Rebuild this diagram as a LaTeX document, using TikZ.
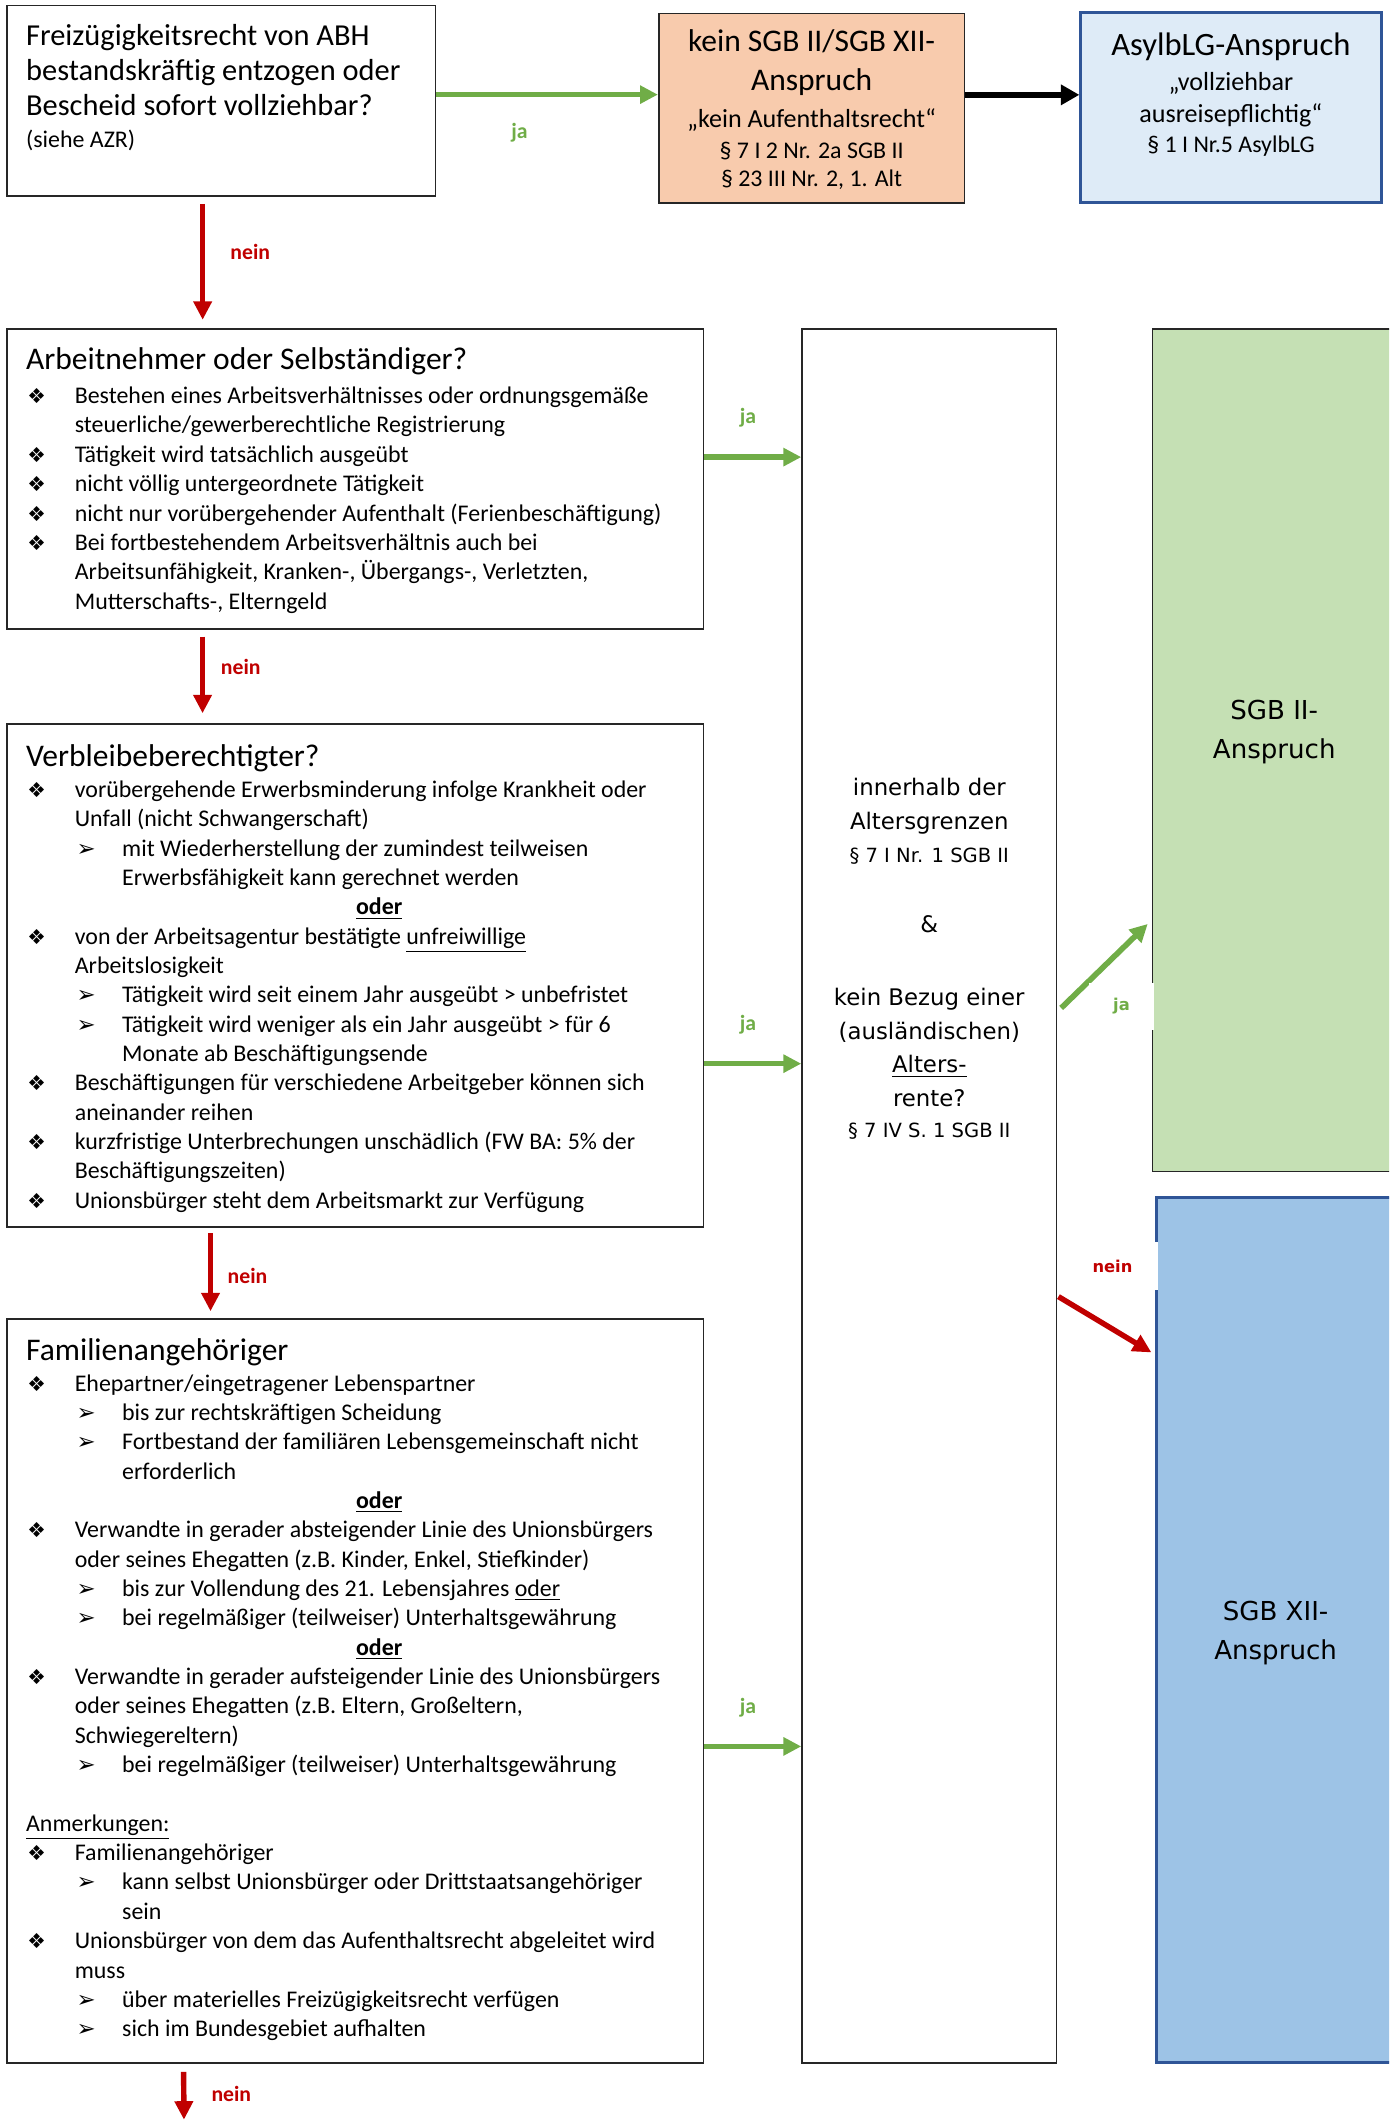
\documentclass[tikz,border=0pt]{standalone}
\usepackage{fontspec}
\setmainfont{Carlito}
\newfontfamily\verd{DejaVu Sans}
\newfontfamily\sym{DejaVu Sans}
\usetikzlibrary{arrows.meta,calc,fit}

\definecolor{jagruen}{HTML}{70AD47}
\definecolor{neinrot}{HTML}{C00000}
\definecolor{orangefill}{HTML}{F8CBAD}
\definecolor{asylfill}{HTML}{DEEBF7}
\definecolor{randblau}{HTML}{2F5597}
\definecolor{sgbzweifill}{HTML}{C5E0B4}
\definecolor{sgbzwoelffill}{HTML}{9DC3E6}

% Aufzaehlungszeichen
\newcommand{\pk}{\makebox[22.4pt][l]{\hspace{0.6pt}{\sym\fontsize{9.5}{9}\selectfont ❖}}}
\newcommand{\upk}{\hspace*{22.4pt}\makebox[21.8pt][l]{\hspace{0.8pt}{\sym\fontsize{10.5}{9}\selectfont ➢}}}
\newcommand{\ein}{\hspace*{22.4pt}}
\newcommand{\uein}{\hspace*{44.2pt}}
\newcommand{\oder}{\makebox[324.9pt]{\textbf{\underline{oder}}}}
\newcommand{\titel}{\fontsize{14.5}{16}\selectfont}

\begin{document}
\begin{tikzpicture}[x=0.6224pt,y=-0.6224pt,
    kasten/.style={draw=black!85, line width=0.8pt, inner sep=0pt},
    textblock/.style={anchor=north west, inner sep=0pt, align=left,
        font=\fontsize{11}{13.5}\selectfont},
    ja/.style={-{Triangle[length=8.2pt,width=8pt]}, line width=2.6pt, draw=jagruen},
    nein/.style={-{Triangle[length=8.5pt,width=8.2pt]}, line width=2.5pt, draw=neinrot},
    jaText/.style={text=jagruen, font=\bfseries\fontsize{10}{12}\selectfont},
    neinText/.style={text=neinrot, font=\bfseries\fontsize{10}{12}\selectfont},
    seitenText/.style={font=\verd\bfseries\fontsize{7.5}{9}\selectfont, fill=white,
        inner sep=0pt, minimum width=30pt, minimum height=22pt}]
    \useasboundingbox (0,0) rectangle (1027,1568);
    \clip (0,0) rectangle (1027,1568);

    % obere Reihe
    \node[kasten, fit={(5,4) (322,145)}] (frage) {};
    \node[textblock, font=\fontsize{14}{16.2}\selectfont] (frageText) at (19,17.5)
        {Freizügigkeitsrecht von ABH\\ bestandskräftig entzogen oder\\
         Bescheid sofort vollziehbar?\\[-1.6pt] {\fontsize{11}{13}\selectfont (siehe AZR)}};

    \node[kasten, fill=orangefill, fit={(487,10) (713,150)}] (kein) {};
    \node[align=center, inner sep=0pt, font=\fontsize{11}{13.1}\selectfont] (keinText) at (600,81)
        {{\fontsize{14.5}{18}\selectfont kein SGB II/SGB XII-}\\[4.9pt]
         {\fontsize{14.5}{18}\selectfont Anspruch}\\[3.7pt]
         {\fontsize{12}{14}\selectfont „kein Aufenthaltsrecht“}\\[1.2pt]
         § 7 I 2 Nr. 2a SGB II\\ § 23 III Nr. 2, 1. Alt};

    \node[kasten, draw=randblau, line width=1.3pt, fill=asylfill,
        fit={(799,9) (1021,150)}] (asyl) {};
    \node[align=center, inner sep=0pt, font=\fontsize{11}{13.7}\selectfont] (asylText) at (910,70)
        {{\fontsize{15}{18}\selectfont AsylbLG-Anspruch}\\[2.5pt]
         {\fontsize{12}{15}\selectfont „vollziehbar}\\[1.2pt]
         {\fontsize{12}{15}\selectfont ausreisepflichtig“}\\
         § 1 I Nr.5 AsylbLG};

    % linke Spalte
    \node[kasten, fit={(5,243) (520,465)}] (arbeit) {};
    \node[textblock] (arbeitText) at (19,257) {%
        {\titel Arbeitnehmer oder Selbständiger?}\\[2pt]
        \pk Bestehen eines Arbeitsverhältnisses oder ordnungsgemäße\\
        \ein steuerliche/gewerberechtliche Registrierung\\
        \pk Tätigkeit wird tatsächlich ausgeübt\\
        \pk nicht völlig untergeordnete Tätigkeit\\
        \pk nicht nur vorübergehender Aufenthalt (Ferienbeschäftigung)\\
        \pk Bei fortbestehendem Arbeitsverhältnis auch bei\\
        \ein Arbeitsunfähigkeit, Kranken-, Übergangs-, Verletzten,\\
        \ein Mutterschafts-, Elterngeld};

    \node[kasten, fit={(5,535) (520,907)}] (verbleib) {};
    \node[textblock] (verbleibText) at (19,550) {%
        {\titel Verbleibeberechtigter?}\\[0.8pt]
        \pk vorübergehende Erwerbsminderung infolge Krankheit oder\\
        \ein Unfall (nicht Schwangerschaft)\\
        \upk mit Wiederherstellung der zumindest teilweisen\\
        \uein Erwerbsfähigkeit kann gerechnet werden\\
        \oder\\
        \pk von der Arbeitsagentur bestätigte \underline{unfreiwillige}\\
        \ein Arbeitslosigkeit\\
        \upk Tätigkeit wird seit einem Jahr ausgeübt > unbefristet\\
        \upk Tätigkeit wird weniger als ein Jahr ausgeübt > für 6\\
        \uein Monate ab Beschäftigungsende\\
        \pk Beschäftigungen für verschiedene Arbeitgeber können sich\\
        \ein aneinander reihen\\
        \pk kurzfristige Unterbrechungen unschädlich (FW BA: 5\% der\\
        \ein Beschäftigungszeiten)\\
        \pk Unionsbürger steht dem Arbeitsmarkt zur Verfügung};

    \node[kasten, fit={(5,975) (520,1525)}] (familie) {};
    \node[textblock] (familieText) at (19,989) {%
        {\titel Familienangehöriger}\\[0.8pt]
        \pk Ehepartner/eingetragener Lebenspartner\\
        \upk bis zur rechtskräftigen Scheidung\\
        \upk Fortbestand der familiären Lebensgemeinschaft nicht\\
        \uein erforderlich\\
        \oder\\
        \pk Verwandte in gerader absteigender Linie des Unionsbürgers\\
        \ein oder seines Ehegatten (z.B. Kinder, Enkel, Stiefkinder)\\
        \upk bis zur Vollendung des 21. Lebensjahres \underline{oder}\\
        \upk bei regelmäßiger (teilweiser) Unterhaltsgewährung\\
        \oder\\
        \pk Verwandte in gerader aufsteigender Linie des Unionsbürgers\\
        \ein oder seines Ehegatten (z.B. Eltern, Großeltern,\\
        \ein Schwiegereltern)\\
        \upk bei regelmäßiger (teilweiser) Unterhaltsgewährung\\[13.5pt]
        \underline{Anmerkungen:}\\
        \pk Familienangehöriger\\
        \upk kann selbst Unionsbürger oder Drittstaatsangehöriger\\
        \uein sein\\
        \pk Unionsbürger von dem das Aufenthaltsrecht abgeleitet wird\\
        \ein muss\\
        \upk über materielles Freizügigkeitsrecht verfügen\\
        \upk sich im Bundesgebiet aufhalten};

    % Pruefung und Ergebnis
    \node[kasten, fit={(593,243) (781,1525)}] (pruef) {};
    \node[align=center, inner sep=0pt, font=\verd\fontsize{10.5}{15.5}\selectfont]
        (pruefText) at (687,709)
        {innerhalb der\\ Altersgrenzen\\[-0.6pt]
         {\fontsize{9}{11}\selectfont § 7 I Nr. 1 SGB II}\\[16.9pt]
         \&\\[18.1pt]
         kein Bezug einer\\ (ausländischen)\\ \underline{Alters-}\\ rente?\\[-1.2pt]
         {\fontsize{9}{11}\selectfont § 7 IV S. 1 SGB II}};

    \node[kasten, fill=sgbzweifill, fit={(852,243) (1033,866)}] (sgbzwei) {};
    \node[align=center, inner sep=0pt, font=\verd\fontsize{12}{18}\selectfont]
        (sgbzweiText) at (942,541) {SGB II-\\ Anspruch};

    \node[kasten, draw=randblau, line width=1.3pt, fill=sgbzwoelffill,
        fit={(855,885) (1033,1525)}] (sgbzwoelf) {};
    \node[align=center, inner sep=0pt, font=\verd\fontsize{12}{18}\selectfont]
        (sgbzwoelfText) at (943,1207) {SGB XII-\\ Anspruch};

    % Pfeile
    \coordinate (jaEins) at ($(frage.north east)!0.468!(frage.south east)$);
    \draw[ja] (jaEins) -- (jaEins -| kein.west);
    \node[jaText] (jaEinsText) at (384,98) {ja};

    \coordinate (schwarzEins) at ($(kein.north east)!0.43!(kein.south east)$);
    \draw[-{Triangle[length=8.5pt,width=9pt]}, line width=3pt]
        (schwarzEins) -- (schwarzEins -| asyl.west);

    \coordinate (neinEins) at ($(frage.south west)!0.457!(frage.south east)$);
    \draw[nein, shorten <=3.1pt, shorten >=3.7pt] (neinEins) -- (neinEins |- arbeit.north);
    \node[neinText] (neinEinsText) at (185,186) {nein};

    \coordinate (neinZwei) at ($(arbeit.south west)!0.2816!(arbeit.south east)$);
    \draw[nein, shorten <=3.1pt, shorten >=4.4pt] (neinZwei) -- (neinZwei |- verbleib.north);
    \node[neinText] (neinZweiText) at (178,493) {nein};

    \coordinate (neinDrei) at ($(verbleib.south west)!0.293!(verbleib.south east)$);
    \draw[nein, shorten <=2.5pt, shorten >=3.1pt] (neinDrei) -- (neinDrei |- familie.north);
    \node[neinText] (neinDreiText) at (183,943) {nein};

    \coordinate (neinVier) at ($(familie.south west)!0.2544!(familie.south east)$);
    \coordinate (weiter) at (136,1567);
    \draw[nein, shorten <=3.7pt] (neinVier) -- (weiter);
    \node[neinText] (neinVierText) at (171,1548) {nein};

    \foreach \q/\f/\t in {arbeit/0.428/ja2, verbleib/0.675/ja3, familie/0.5745/ja4}
    {   \coordinate (\t) at ($(\q.north east)!\f!(\q.south east)$);
        \draw[ja] (\t) -- (\t -| pruef.west)
            node[jaText, pos=0.45, above=9pt] (\t Text) {ja};
    }

    \coordinate (jaRechts) at ($(pruef.north east)!0.394!(pruef.south east)$);
    \draw[ja, shorten <=2.5pt, shorten >=2.5pt]
        (jaRechts) -- ($(sgbzwei.north west)!0.7014!(sgbzwei.south west)$);
    \node[seitenText, text=jagruen, anchor=east] (jaRechtsText) at (853.5,744) {ja};

    \coordinate (neinRechts) at ($(pruef.north east)!0.5577!(pruef.south east)$);
    \draw[nein, shorten <=0.6pt, shorten >=2pt]
        (neinRechts) -- ($(sgbzwoelf.north west)!0.183!(sgbzwoelf.south west)$);
    \node[seitenText, text=neinrot, minimum width=42pt, anchor=east] (neinRechtsText)
        at (856.5,936) {nein};
\end{tikzpicture}
\end{document}
